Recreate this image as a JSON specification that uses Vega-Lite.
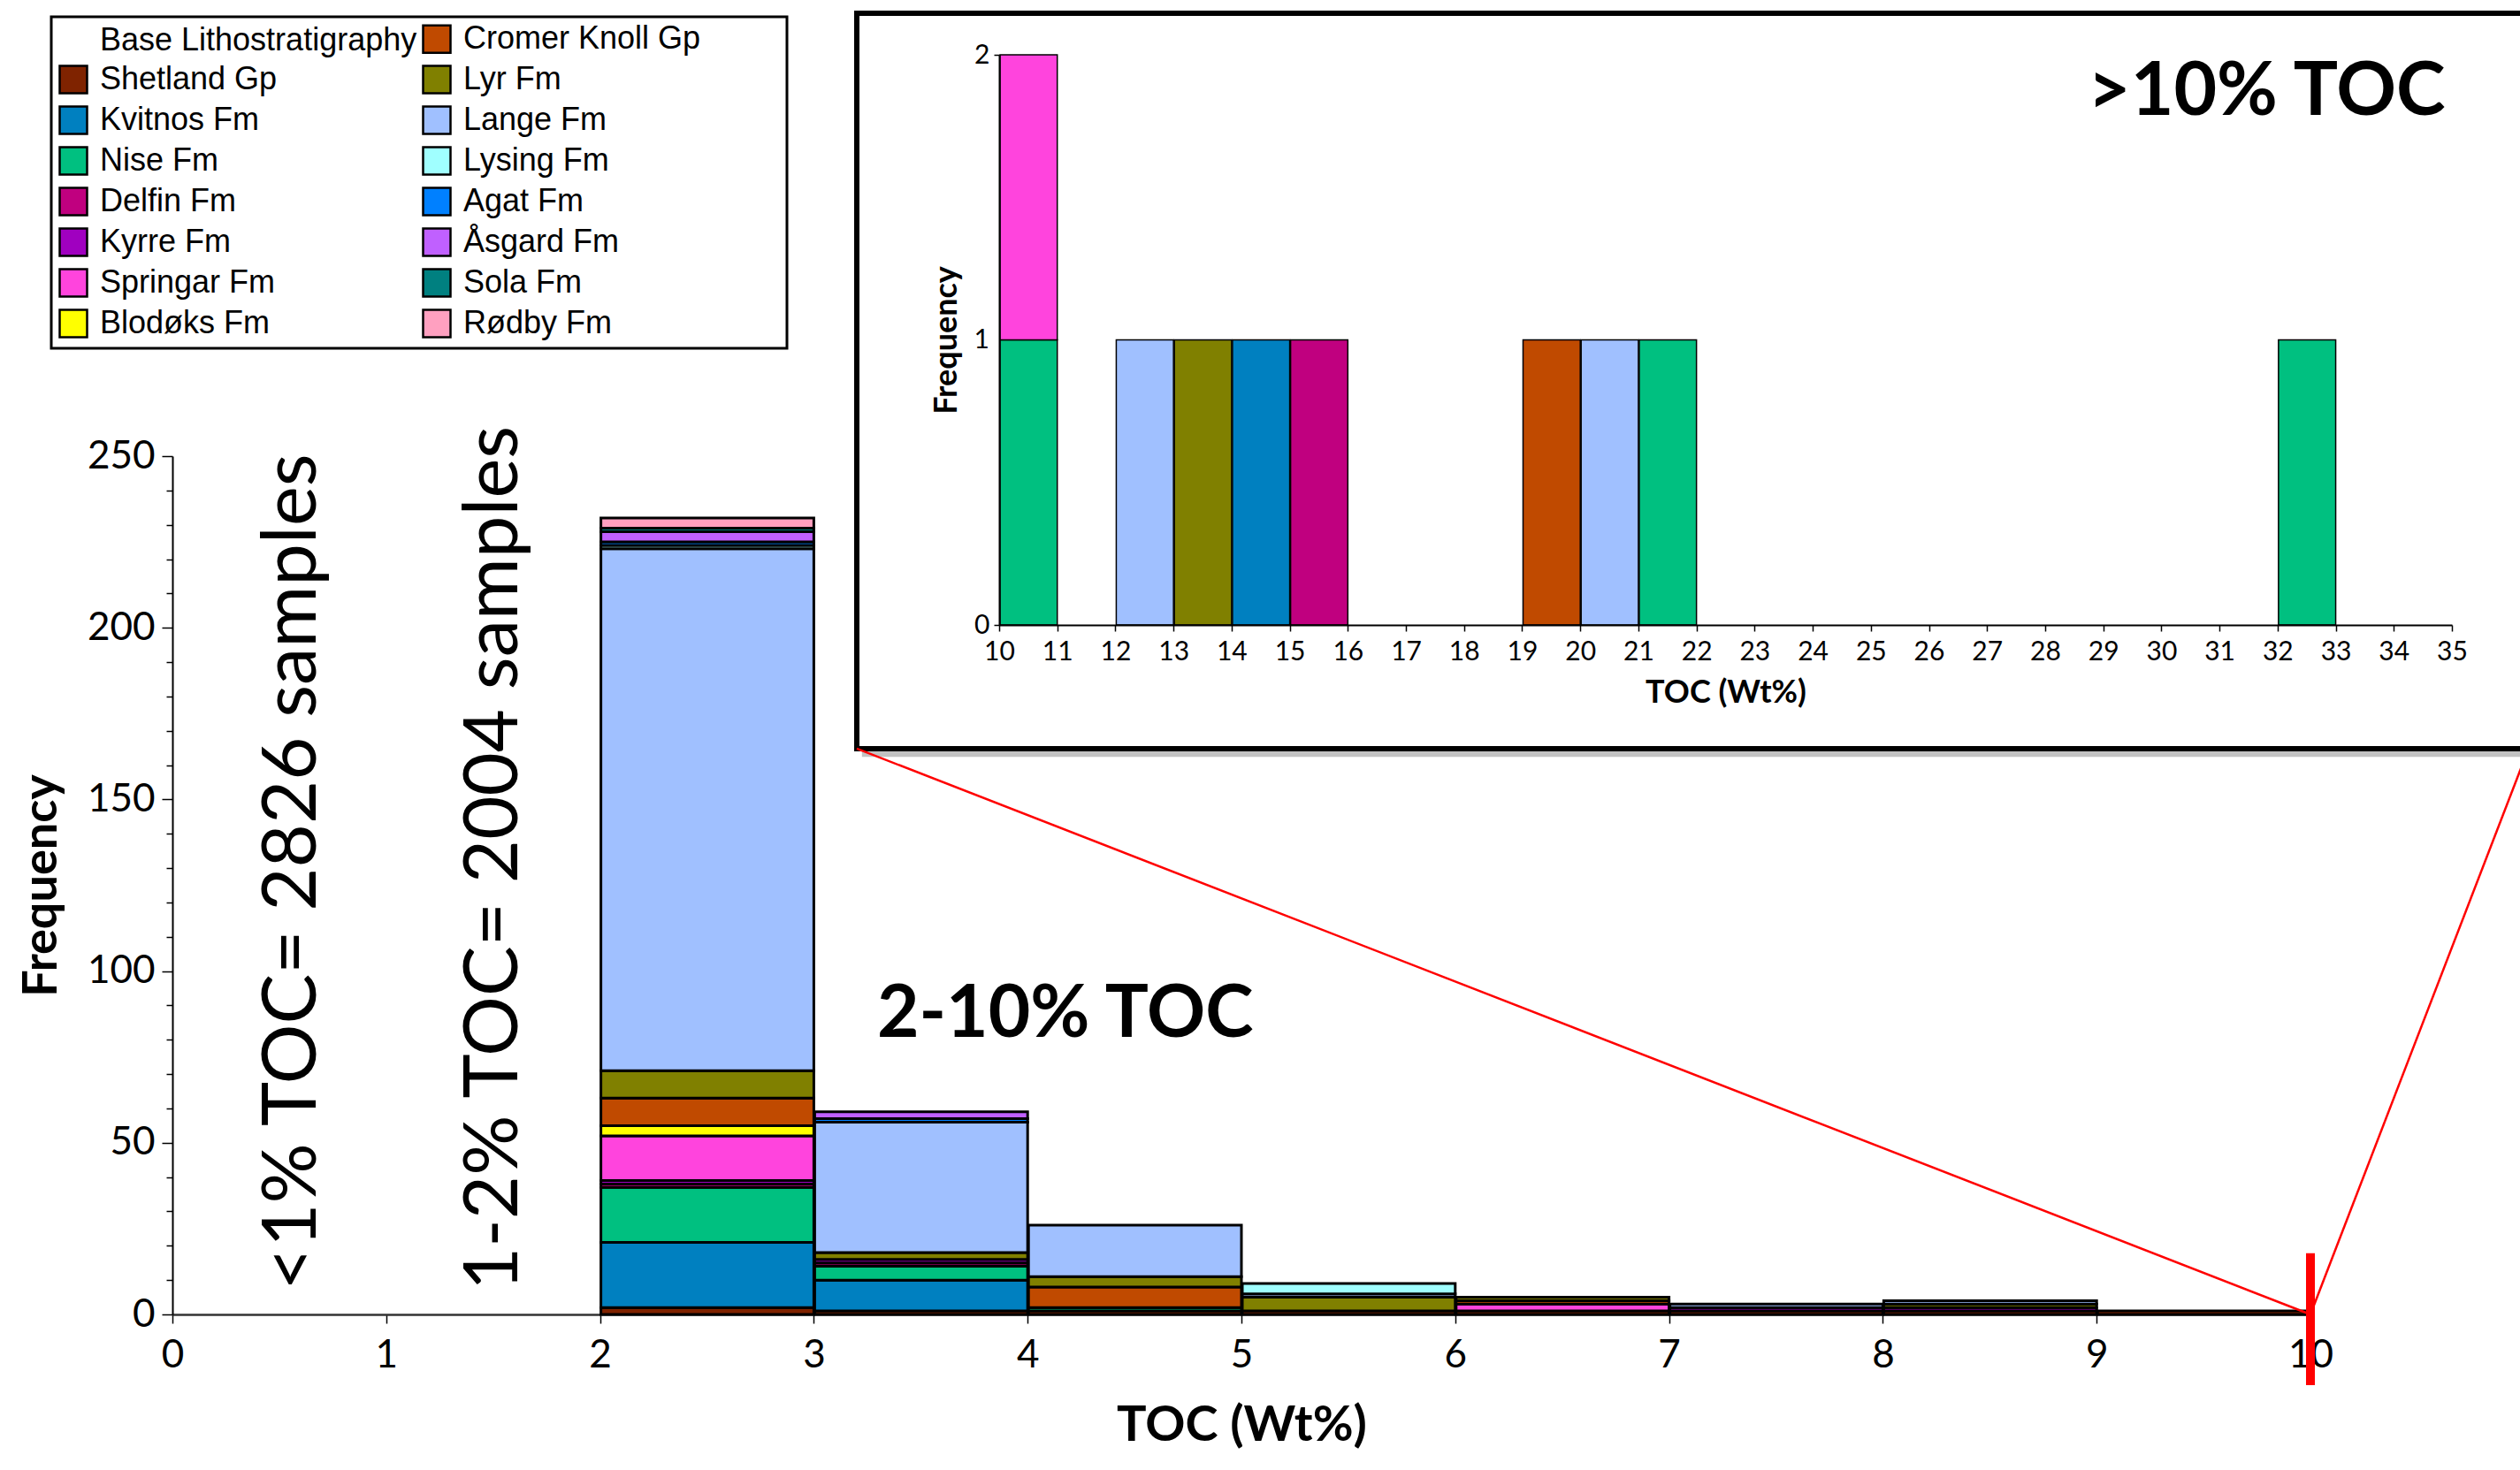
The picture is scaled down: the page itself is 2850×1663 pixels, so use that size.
{
  "$schema": "https://vega.github.io/schema/vega-lite/v6.json",
  "width": 2418,
  "height": 971,
  "autosize": {"type": "none"},
  "padding": {"left": 195, "top": 516, "right": 237, "bottom": 176},
  "background": "white",
  "config": {
    "view": {"stroke": null},
    "axis": {"labelColor": "black", "titleColor": "black", "tickColor": "black", "domainColor": "black", "grid": false, "labelOverlap": false}
  },
  "datasets": {
    "main": [
      {"bin_start": 2, "bin_end": 3, "formation": "Shetland Gp", "count": 2},
      {"bin_start": 2, "bin_end": 3, "formation": "Kvitnos Fm", "count": 19},
      {"bin_start": 2, "bin_end": 3, "formation": "Nise Fm", "count": 16},
      {"bin_start": 2, "bin_end": 3, "formation": "Delfin Fm", "count": 1},
      {"bin_start": 2, "bin_end": 3, "formation": "Kyrre Fm", "count": 1},
      {"bin_start": 2, "bin_end": 3, "formation": "Springar Fm", "count": 13},
      {"bin_start": 2, "bin_end": 3, "formation": "Blodøks Fm", "count": 3},
      {"bin_start": 2, "bin_end": 3, "formation": "Cromer Knoll Gp", "count": 8},
      {"bin_start": 2, "bin_end": 3, "formation": "Lyr Fm", "count": 8},
      {"bin_start": 2, "bin_end": 3, "formation": "Lange Fm", "count": 152},
      {"bin_start": 2, "bin_end": 3, "formation": "Lysing Fm", "count": 1},
      {"bin_start": 2, "bin_end": 3, "formation": "Agat Fm", "count": 1},
      {"bin_start": 2, "bin_end": 3, "formation": "Åsgard Fm", "count": 3},
      {"bin_start": 2, "bin_end": 3, "formation": "Sola Fm", "count": 1},
      {"bin_start": 2, "bin_end": 3, "formation": "Rødby Fm", "count": 3},
      {"bin_start": 3, "bin_end": 4, "formation": "Shetland Gp", "count": 1},
      {"bin_start": 3, "bin_end": 4, "formation": "Kvitnos Fm", "count": 9},
      {"bin_start": 3, "bin_end": 4, "formation": "Nise Fm", "count": 4},
      {"bin_start": 3, "bin_end": 4, "formation": "Delfin Fm", "count": 1},
      {"bin_start": 3, "bin_end": 4, "formation": "Kyrre Fm", "count": 1},
      {"bin_start": 3, "bin_end": 4, "formation": "Lyr Fm", "count": 2},
      {"bin_start": 3, "bin_end": 4, "formation": "Lange Fm", "count": 38},
      {"bin_start": 3, "bin_end": 4, "formation": "Agat Fm", "count": 1},
      {"bin_start": 3, "bin_end": 4, "formation": "Åsgard Fm", "count": 2},
      {"bin_start": 4, "bin_end": 5, "formation": "Shetland Gp", "count": 1},
      {"bin_start": 4, "bin_end": 5, "formation": "Nise Fm", "count": 1},
      {"bin_start": 4, "bin_end": 5, "formation": "Cromer Knoll Gp", "count": 6},
      {"bin_start": 4, "bin_end": 5, "formation": "Lyr Fm", "count": 3},
      {"bin_start": 4, "bin_end": 5, "formation": "Lange Fm", "count": 15},
      {"bin_start": 5, "bin_end": 6, "formation": "Shetland Gp", "count": 1},
      {"bin_start": 5, "bin_end": 6, "formation": "Lyr Fm", "count": 4},
      {"bin_start": 5, "bin_end": 6, "formation": "Lange Fm", "count": 1},
      {"bin_start": 5, "bin_end": 6, "formation": "Lysing Fm", "count": 3},
      {"bin_start": 6, "bin_end": 7, "formation": "Shetland Gp", "count": 1},
      {"bin_start": 6, "bin_end": 7, "formation": "Springar Fm", "count": 2},
      {"bin_start": 6, "bin_end": 7, "formation": "Cromer Knoll Gp", "count": 1},
      {"bin_start": 6, "bin_end": 7, "formation": "Lyr Fm", "count": 1},
      {"bin_start": 7, "bin_end": 8, "formation": "Shetland Gp", "count": 1},
      {"bin_start": 7, "bin_end": 8, "formation": "Kyrre Fm", "count": 1},
      {"bin_start": 7, "bin_end": 8, "formation": "Lange Fm", "count": 1},
      {"bin_start": 8, "bin_end": 9, "formation": "Shetland Gp", "count": 1},
      {"bin_start": 8, "bin_end": 9, "formation": "Kyrre Fm", "count": 1},
      {"bin_start": 8, "bin_end": 9, "formation": "Lyr Fm", "count": 1},
      {"bin_start": 8, "bin_end": 9, "formation": "Lange Fm", "count": 1},
      {"bin_start": 9, "bin_end": 10, "formation": "Shetland Gp", "count": 1}
    ],
    "inset": [
      {"bin_start": 10, "bin_end": 11, "formation": "Nise Fm", "count": 1},
      {"bin_start": 10, "bin_end": 11, "formation": "Springar Fm", "count": 1},
      {"bin_start": 12, "bin_end": 13, "formation": "Lange Fm", "count": 1},
      {"bin_start": 13, "bin_end": 14, "formation": "Lyr Fm", "count": 1},
      {"bin_start": 14, "bin_end": 15, "formation": "Kvitnos Fm", "count": 1},
      {"bin_start": 15, "bin_end": 16, "formation": "Delfin Fm", "count": 1},
      {"bin_start": 19, "bin_end": 20, "formation": "Cromer Knoll Gp", "count": 1},
      {"bin_start": 20, "bin_end": 21, "formation": "Lange Fm", "count": 1},
      {"bin_start": 21, "bin_end": 22, "formation": "Nise Fm", "count": 1},
      {"bin_start": 32, "bin_end": 33, "formation": "Nise Fm", "count": 1}
    ],
    "rotated_notes": [
      {"label": "<1% TOC= 2826 samples", "x": 0.67, "y": 6.95},
      {"label": "1-2% TOC= 2004 samples", "x": 1.613, "y": 6.95}
    ],
    "main_note": [
      {"label": "2-10% TOC", "x": 3.296, "y": 80.8}
    ],
    "inset_note": [
      {"label": ">10% TOC", "x": 28.73, "y": 1.789}
    ],
    "inset_mid_label": [
      {"label": "1", "x": 10, "y": 1}
    ],
    "zoom_lines": [
      {"x": 10, "y": 0, "x2": 3.201, "y2": 164.8},
      {"x": 10, "y": 0, "x2": 11.02, "y2": 164.8}
    ],
    "zoom_marker": [
      {"x": 10, "y": 17.8, "y2": -20.6}
    ],
    "inset_frame": [
      {"x": 3.201, "x2": 11.02, "y": 164.8, "y2": 379.0}
    ],
    "inset_shadow": [
      {"x": 3.225, "x2": 11.05, "y": 162.4, "y2": 376.6}
    ]
  },
  "layer": [
    {
      "layer": [
        {
          "data": {"name": "main"},
          "transform": [
            {"calculate": "indexof(['Shetland Gp','Kvitnos Fm','Nise Fm','Delfin Fm','Kyrre Fm','Springar Fm','Blodøks Fm','Cromer Knoll Gp','Lyr Fm','Lange Fm','Lysing Fm','Agat Fm','Åsgard Fm','Sola Fm','Rødby Fm'], datum.formation)", "as": "ord"}
          ],
          "mark": {"type": "bar", "stroke": "black", "strokeWidth": 3},
          "encoding": {
            "x": {
              "field": "bin_start", "type": "quantitative", "bin": "binned",
              "scale": {"domain": [0, 10], "nice": false, "zero": false},
              "axis": {
                "orient": "bottom", "values": [0, 1, 2, 3, 4, 5, 6, 7, 8, 9, 10], "tickCount": 200, "format": "d", "labelOverlap": false,
                "title": "TOC (Wt%)", "titleFont": "Lato", "titleFontSize": 56, "titleFontWeight": "bold", "titlePadding": 30,
                "labelFont": "Lato", "labelFontSize": 44, "labelPadding": 14, "labelFlush": false,
                "tickSize": 10, "tickWidth": 1.5, "domainWidth": 2.5, "domainColor": "#333"
              }
            },
            "x2": {"field": "bin_end"},
            "y": {
              "field": "count", "type": "quantitative", "stack": "zero",
              "scale": {"domain": [0, 250], "nice": false},
              "axis": {
                "orient": "left", "values": [0, 10, 20, 30, 40, 50, 60, 70, 80, 90, 100, 110, 120, 130, 140, 150, 160, 170, 180, 190, 200, 210, 220, 230, 240, 250],
                "tickCount": 200,
                "labelExpr": "datum.value % 50 === 0 ? datum.label : ''", "labelOverlap": false,
                "labelFontSize": {"condition": {"test": "datum.value % 50 !== 0", "value": 1}, "value": 44},
                "tickSize": {"condition": {"test": "datum.value % 50 === 0", "value": 12}, "value": 7},
                "title": "Frequency", "titleFont": "Lato", "titleFontSize": 54, "titleFontWeight": "bold", "titlePadding": 24,
                "labelFont": "Lato", "labelPadding": 8,
                "tickWidth": 1.5, "domainWidth": 2
              }
            },
            "color": {
              "field": "formation", "type": "nominal",
              "scale": {
                "domain": ["Base Lithostratigraphy", "Shetland Gp", "Kvitnos Fm", "Nise Fm", "Delfin Fm", "Kyrre Fm", "Springar Fm", "Blodøks Fm", "Cromer Knoll Gp", "Lyr Fm", "Lange Fm", "Lysing Fm", "Agat Fm", "Åsgard Fm", "Sola Fm", "Rødby Fm"],
                "range": ["#ffffff", "#7f2300", "#0080c0", "#00c080", "#c0007f", "#a000c0", "#ff44dd", "#ffff00", "#c04a00", "#808000", "#a0c0ff", "#a0ffff", "#0080ff", "#c060ff", "#008080", "#ffa0c0"]
              },
              "legend": {
                "orient": "none", "legendX": -137, "legendY": -497, "title": null,
                "columns": 2, "gridAlign": "all",
                "symbolType": "square", "symbolSize": 961, "symbolStrokeColor": "black", "symbolStrokeWidth": 2.5,
                "labelFont": "Liberation Sans", "labelFontSize": 36, "labelColor": "black", "labelLimit": 900, "labelOffset": 12,
                "labelExpr": "datum.label === 'Rødby Fm' ? datum.label + '\u00a0\u00a0\u00a0\u00a0\u00a0\u00a0\u00a0\u00a0\u00a0\u00a0\u00a0\u00a0\u00a0\u00a0\u00a0\u00a0\u00a0\u00a0\u00a0\u200b' : datum.label",
                "rowPadding": 4, "columnPadding": 1, "padding": 7,
                "strokeColor": "black", "fillColor": "white",
                "encode": {
                  "legend": {"update": {"strokeWidth": {"value": 3}}},
                  "symbols": {"update": {"opacity": [{"test": "datum.value === 'Base Lithostratigraphy'", "value": 0}, {"value": 1}]}}
                }
              }
            },
            "order": {"field": "ord", "type": "quantitative"}
          }
        },
        {
          "data": {"name": "inset_shadow"},
          "mark": {"type": "rect", "fill": "#777777", "opacity": 0.45},
          "encoding": {
            "x": {"field": "x", "type": "quantitative"},
            "x2": {"field": "x2"},
            "y": {"field": "y", "type": "quantitative"},
            "y2": {"field": "y2"}
          }
        },
        {
          "data": {"name": "inset_frame"},
          "mark": {"type": "rect", "fill": "white", "stroke": "black", "strokeWidth": 6},
          "encoding": {
            "x": {"field": "x", "type": "quantitative"},
            "x2": {"field": "x2"},
            "y": {"field": "y", "type": "quantitative"},
            "y2": {"field": "y2"}
          }
        },
        {
          "data": {"name": "zoom_lines"},
          "mark": {"type": "rule", "color": "#ff0000", "strokeWidth": 2.5},
          "encoding": {
            "x": {"field": "x", "type": "quantitative"},
            "y": {"field": "y", "type": "quantitative"},
            "x2": {"field": "x2"},
            "y2": {"field": "y2"}
          }
        },
        {
          "data": {"name": "zoom_marker"},
          "mark": {"type": "rule", "color": "#ff0000", "strokeWidth": 10},
          "encoding": {
            "x": {"field": "x", "type": "quantitative"},
            "y": {"field": "y", "type": "quantitative"},
            "y2": {"field": "y2"}
          }
        },
        {
          "data": {"name": "rotated_notes"},
          "mark": {"type": "text", "angle": 270, "align": "left", "baseline": "alphabetic", "font": "Lato", "fontSize": 85, "color": "black"},
          "encoding": {
            "x": {"field": "x", "type": "quantitative"},
            "y": {"field": "y", "type": "quantitative"},
            "text": {"field": "label"}
          }
        },
        {
          "data": {"name": "main_note"},
          "mark": {"type": "text", "align": "left", "baseline": "alphabetic", "font": "Lato", "fontSize": 82, "fontWeight": "bold", "color": "black"},
          "encoding": {
            "x": {"field": "x", "type": "quantitative"},
            "y": {"field": "y", "type": "quantitative"},
            "text": {"field": "label"}
          }
        }
      ]
    },
    {
      "layer": [
        {
          "data": {"name": "inset"},
          "transform": [
            {"calculate": "indexof(['Shetland Gp','Kvitnos Fm','Nise Fm','Delfin Fm','Kyrre Fm','Springar Fm','Blodøks Fm','Cromer Knoll Gp','Lyr Fm','Lange Fm','Lysing Fm','Agat Fm','Åsgard Fm','Sola Fm','Rødby Fm'], datum.formation)", "as": "ord"}
          ],
          "mark": {"type": "bar", "stroke": "black", "strokeWidth": 1.5},
          "encoding": {
            "x": {
              "field": "bin_start", "type": "quantitative", "bin": "binned",
              "scale": {"domain": [10, 35], "range": [935, 2578], "nice": false, "zero": false},
              "axis": {
                "orient": "bottom", "offset": -780, "zindex": 1, "format": "d", "labelOverlap": false, "tickCount": 200,
                "values": [10, 11, 12, 13, 14, 15, 16, 17, 18, 19, 20, 21, 22, 23, 24, 25, 26, 27, 28, 29, 30, 31, 32, 33, 34, 35],
                "title": "TOC (Wt%)", "titleFont": "Lato", "titleFontSize": 36, "titleFontWeight": "bold", "titlePadding": 14,
                "labelFont": "Lato", "labelFontSize": 30, "labelPadding": 8, "labelFlush": false,
                "tickSize": 7, "tickWidth": 1.5, "domainWidth": 2
              }
            },
            "x2": {"field": "bin_end"},
            "y": {
              "field": "count", "type": "quantitative", "stack": "zero",
              "scale": {"domain": [0, 2], "range": [191, -454], "nice": false},
              "axis": {
                "orient": "left", "offset": -935, "zindex": 1, "values": [0, 1, 2], "tickCount": 200, "tickMinStep": 1, "format": "d",
                "labelOverlap": false, "labelFlush": false,
                "title": "Frequency", "titleFont": "Lato", "titleFontSize": 36, "titleFontWeight": "bold", "titlePadding": 12,
                "labelFont": "Lato", "labelFontSize": 30, "labelPadding": 5,
                "tickSize": 6, "tickWidth": 1.5, "domainWidth": 2
              }
            },
            "color": {
              "field": "formation", "type": "nominal",
              "legend": {
                "orient": "none", "legendX": -137, "legendY": -497, "title": null,
                "columns": 2, "gridAlign": "all",
                "symbolType": "square", "symbolSize": 961, "symbolStrokeColor": "black", "symbolStrokeWidth": 2.5,
                "labelFont": "Liberation Sans", "labelFontSize": 36, "labelColor": "black", "labelLimit": 900, "labelOffset": 12,
                "labelExpr": "datum.label === 'Rødby Fm' ? datum.label + '\u00a0\u00a0\u00a0\u00a0\u00a0\u00a0\u00a0\u00a0\u00a0\u00a0\u00a0\u00a0\u00a0\u00a0\u00a0\u00a0\u00a0\u00a0\u00a0\u200b' : datum.label",
                "rowPadding": 4, "columnPadding": 1, "padding": 7,
                "strokeColor": "black", "fillColor": "white",
                "encode": {
                  "legend": {"update": {"strokeWidth": {"value": 3}}},
                  "symbols": {"update": {"opacity": [{"test": "datum.value === 'Base Lithostratigraphy'", "value": 0}, {"value": 1}]}}
                }
              }
            },
            "order": {"field": "ord", "type": "quantitative"}
          }
        },
        {
          "data": {"name": "inset_mid_label"},
          "mark": {"type": "text", "align": "right", "baseline": "middle", "dx": -11, "font": "Lato", "fontSize": 30, "color": "black"},
          "encoding": {
            "x": {"field": "x", "type": "quantitative"},
            "y": {"field": "y", "type": "quantitative"},
            "text": {"field": "label"}
          }
        },
        {
          "data": {"name": "inset_note"},
          "mark": {"type": "text", "align": "left", "baseline": "alphabetic", "font": "Lato", "fontSize": 84, "fontWeight": "bold", "color": "black"},
          "encoding": {
            "x": {"field": "x", "type": "quantitative"},
            "y": {"field": "y", "type": "quantitative"},
            "text": {"field": "label"}
          }
        }
      ]
    }
  ],
  "resolve": {
    "scale": {"x": "independent", "y": "independent"},
    "axis": {"x": "independent", "y": "independent"}
  }
}
